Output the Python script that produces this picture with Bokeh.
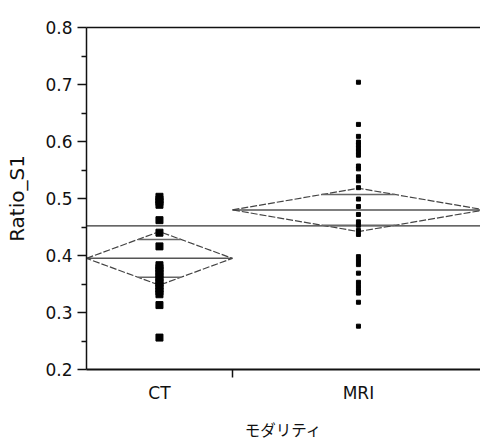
import numpy as np
from bokeh.plotting import figure
from bokeh.models import Range1d, FixedTicker, LinearAxis
from bokeh.embed import file_html
from bokeh.resources import INLINE

# ---- data ----
groups = ["CT", "MRI"]
group_n = [22, 38]
ct_values = [0.503, 0.498, 0.494, 0.489, 0.462, 0.440, 0.416, 0.383, 0.378,
             0.373, 0.368, 0.362, 0.357, 0.352, 0.347, 0.342, 0.337, 0.332,
             0.313, 0.256]
mri_values = [0.704, 0.630, 0.609, 0.599, 0.594, 0.588, 0.582, 0.576, 0.557,
              0.552, 0.538, 0.531, 0.519, 0.499, 0.486, 0.472, 0.459, 0.453,
              0.444, 0.437, 0.398, 0.391, 0.384, 0.369, 0.353, 0.346, 0.339,
              0.334, 0.318, 0.276]
group_means = [0.395, 0.480]
ci_lower = [0.348, 0.442]
ci_upper = [0.442, 0.518]
grand_mean = 0.452
y_ticks = [0.2, 0.3, 0.4, 0.5, 0.6, 0.7, 0.8]
y_minor_ticks = [0.25, 0.35, 0.45, 0.55, 0.65, 0.75]
x_title = "モダリティ"
y_title = "Ratio_S1"

# ---- derived geometry ----
edges = np.concatenate([[0], np.cumsum(group_n)]).astype(float)
lefts = edges[:-1]
rights = edges[1:]
centers = (lefts + rights) / 2
total = edges[-1]

p = figure(width=480, height=442, output_backend="svg", toolbar_location=None,
           x_range=Range1d(0, total * 0.99), y_range=Range1d(0.2, 0.8),
           min_border_left=86, min_border_right=0, min_border_top=27,
           min_border_bottom=72)
p.grid.visible = False
p.outline_line_color = None
p.background_fill_color = "white"

TICK_FONT = "DejaVu Sans"

# y axis
ya = p.yaxis[0]
ya.ticker = FixedTicker(ticks=y_ticks, minor_ticks=y_minor_ticks)
ya.major_tick_out = 9
ya.major_tick_in = 0
ya.minor_tick_out = 5
ya.minor_tick_in = 0
ya.axis_line_width = 1.5
ya.major_tick_line_width = 1.5
ya.minor_tick_line_width = 1.5
ya.axis_line_color = "#111"
ya.major_tick_line_color = "#111"
ya.minor_tick_line_color = "#111"
ya.major_label_text_font = TICK_FONT
ya.major_label_text_font_size = "17px"
ya.major_label_text_color = "#111"
ya.major_label_standoff = 5
ya.axis_label = y_title
ya.axis_label_text_font = TICK_FONT
ya.axis_label_text_font_size = "20px"
ya.axis_label_text_font_style = "normal"
ya.axis_label_text_color = "#111"
ya.axis_label_standoff = 13

# x axis
xa = p.xaxis[0]
xa.ticker = FixedTicker(ticks=[int(c) for c in centers], minor_ticks=[float(e) for e in edges[1:-1]])
xa.major_label_overrides = {int(c): g for c, g in zip(centers, groups)}
xa.major_tick_out = 0
xa.major_tick_in = 0
xa.minor_tick_out = 8
xa.minor_tick_in = 0
xa.axis_line_width = 2
xa.minor_tick_line_width = 1.5
xa.axis_line_color = "#111"
xa.minor_tick_line_color = "#111"
xa.major_label_text_font = TICK_FONT
xa.major_label_text_font_size = "17px"
xa.major_label_text_color = "#111"
xa.major_label_standoff = 5
xa.axis_label = x_title
xa.axis_label_text_font = "Noto Sans CJK JP"
xa.axis_label_text_font_size = "15.5px"
xa.axis_label_text_font_style = "normal"
xa.axis_label_text_color = "#111"
xa.axis_label_standoff = 12

# top border line
top = LinearAxis(ticker=FixedTicker(ticks=[]), major_label_text_font_size="0px",
                 major_tick_out=0, major_tick_in=0, minor_tick_out=0, minor_tick_in=0,
                 axis_line_width=1.5, axis_line_color="#111")
p.add_layout(top, "above")

# grand mean line
p.segment(x0=[0], x1=[total], y0=[grand_mean], y1=[grand_mean],
          line_color="#333", line_width=1.2)

# group mean lines
p.segment(x0=lefts, x1=rights, y0=group_means, y1=group_means,
          line_color="#555", line_width=1.5)

# means diamonds
xs, ys = [], []
for l, r, c, m, lo, hi in zip(lefts, rights, centers, group_means, ci_lower, ci_upper):
    xs.append([l, c, r, c, l])
    ys.append([m, hi, m, lo, m])
p.multi_line(xs=xs, ys=ys, line_color="#444", line_width=1.2, line_dash="7 2")

# overlap marks
ox0, ox1, oy = [], [], []
for l, r, c, m, lo, hi in zip(lefts, rights, centers, group_means, ci_lower, ci_upper):
    half = (r - l) / 2
    for d in ((hi - m) / np.sqrt(2), -(m - lo) / np.sqrt(2)):
        frac = abs(d) / ((hi - m) if d > 0 else (m - lo))
        w = half * (1 - frac)
        ox0.append(c - w)
        ox1.append(c + w)
        oy.append(m + d)
p.segment(x0=ox0, x1=ox1, y0=oy, y1=oy, line_color="#666", line_width=1.5)

# data points
p.scatter(x=[centers[0]] * len(ct_values), y=ct_values, marker="square",
          size=7, color="black")
p.scatter(x=[centers[1]] * len(mri_values), y=mri_values, marker="square",
          size=4, color="black")

open("out.html", "w").write(file_html(p, INLINE))
